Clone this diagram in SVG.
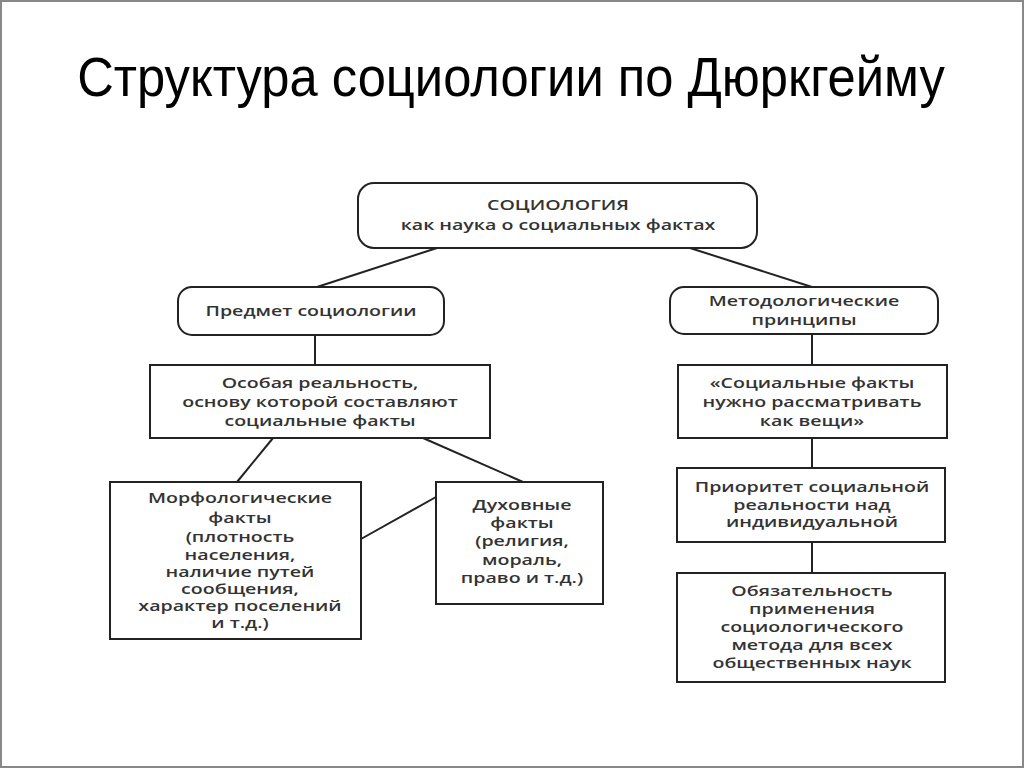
<svg xmlns="http://www.w3.org/2000/svg" width="1024" height="768" viewBox="0 0 1024 768">
<style>
.box{fill:#fff;stroke:#222;stroke-width:2}
.t{font-family:"Open Sans","DejaVu Sans",sans-serif;font-weight:600;font-size:14px;fill:#333;text-anchor:middle}
.c{stroke:#222;stroke-width:2;fill:none}
</style>
<rect x="0" y="0" width="1024" height="768" fill="#fff"/>
<rect x="1" y="1" width="1022" height="766" fill="none" stroke="#888" stroke-width="2"/>
<text transform="translate(511 96) scale(0.86 1)" x="0" y="0" font-family="Liberation Sans, Arial, sans-serif" font-size="56" textLength="1009" lengthAdjust="spacingAndGlyphs" text-anchor="middle" fill="#000">Структура социологии по Дюркгейму</text>
<g id="connectors">
<line class="c" x1="437" y1="248" x2="317" y2="287"/>
<line class="c" x1="690" y1="248" x2="812" y2="287"/>
<line class="c" x1="315" y1="335" x2="315" y2="365"/>
<line class="c" x1="812" y1="334" x2="812" y2="365"/>
<line class="c" x1="273" y1="438" x2="237" y2="482"/>
<line class="c" x1="423" y1="438" x2="523" y2="482"/>
<line class="c" x1="361" y1="539" x2="436" y2="497"/>
<line class="c" x1="812" y1="438" x2="812" y2="468"/>
<line class="c" x1="812" y1="542" x2="812" y2="573"/>
</g>
<g id="root">
<rect class="box" x="358" y="183" width="399" height="65" rx="16"/>
<text class="t" transform="translate(558 210) scale(1.4 1)">СОЦИОЛОГИЯ</text>
<text class="t" transform="translate(558 230) scale(1.4 1)">как наука о социальных фактах</text>
</g>
<g id="subject">
<rect class="box" x="178" y="287" width="266" height="48" rx="14"/>
<text class="t" transform="translate(311 316) scale(1.4 1)">Предмет социологии</text>
</g>
<g id="methods">
<rect class="box" x="670" y="287" width="268" height="47" rx="14"/>
<text class="t" transform="translate(804 306) scale(1.4 1)">Методологические</text>
<text class="t" transform="translate(804 325) scale(1.4 1)">принципы</text>
</g>
<g id="reality">
<rect class="box" x="150" y="365" width="340" height="73"/>
<text class="t" transform="translate(320 388) scale(1.4 1)">Особая реальность,</text>
<text class="t" transform="translate(320 407) scale(1.4 1)">основу которой составляют</text>
<text class="t" transform="translate(320 426) scale(1.4 1)">социальные факты</text>
</g>
<g id="things">
<rect class="box" x="678" y="365" width="269" height="73"/>
<text class="t" transform="translate(812 388) scale(1.4 1)">«Социальные факты</text>
<text class="t" transform="translate(812 407) scale(1.4 1)">нужно рассматривать</text>
<text class="t" transform="translate(812 426) scale(1.4 1)">как вещи»</text>
</g>
<g id="morph">
<rect class="box" x="110" y="482" width="251" height="157"/>
<text class="t" transform="translate(240 503) scale(1.4 1)">Морфологические</text>
<text class="t" transform="translate(240 523) scale(1.4 1)">факты</text>
<text class="t" transform="translate(240 542) scale(1.4 1)">(плотность</text>
<text class="t" transform="translate(240 560) scale(1.4 1)">населения,</text>
<text class="t" transform="translate(240 577) scale(1.4 1)">наличие путей</text>
<text class="t" transform="translate(240 594) scale(1.4 1)">сообщения,</text>
<text class="t" transform="translate(240 611) scale(1.4 1)">характер поселений</text>
<text class="t" transform="translate(240 628) scale(1.4 1)">и т.д.)</text>
</g>
<g id="spirit">
<rect class="box" x="436" y="482" width="167" height="122"/>
<text class="t" transform="translate(522 510) scale(1.4 1)">Духовные</text>
<text class="t" transform="translate(522 528) scale(1.4 1)">факты</text>
<text class="t" transform="translate(522 546) scale(1.4 1)">(религия,</text>
<text class="t" transform="translate(522 565) scale(1.4 1)">мораль,</text>
<text class="t" transform="translate(522 583) scale(1.4 1)">право и т.д.)</text>
</g>
<g id="priority">
<rect class="box" x="677" y="468" width="268" height="74"/>
<text class="t" transform="translate(812 492) scale(1.4 1)">Приоритет социальной</text>
<text class="t" transform="translate(812 510) scale(1.4 1)">реальности над</text>
<text class="t" transform="translate(812 527) scale(1.4 1)">индивидуальной</text>
</g>
<g id="obligation">
<rect class="box" x="677" y="573" width="268" height="109"/>
<text class="t" transform="translate(812 596) scale(1.4 1)">Обязательность</text>
<text class="t" transform="translate(812 614) scale(1.4 1)">применения</text>
<text class="t" transform="translate(812 632) scale(1.4 1)">социологического</text>
<text class="t" transform="translate(812 650) scale(1.4 1)">метода для всех</text>
<text class="t" transform="translate(812 668) scale(1.4 1)">общественных наук</text>
</g>
</svg>
